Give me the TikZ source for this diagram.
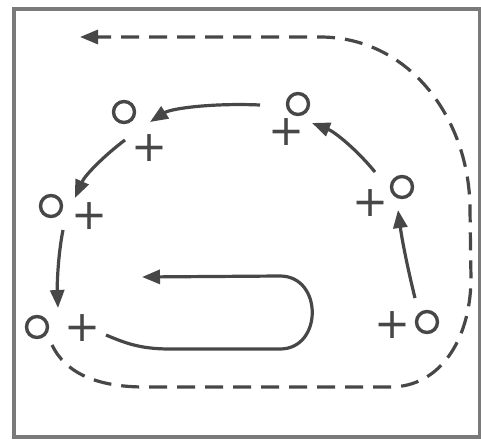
\documentclass[tikz,border=0pt]{standalone}
\usepackage{fontspec}
\newfontfamily\plusfont{DejaVu Sans}
\usetikzlibrary{arrows.meta}
\definecolor{ink}{HTML}{474747}
\definecolor{framec}{HTML}{7A7A7A}
\begin{document}
\begin{tikzpicture}[x=1pt,y=-1pt,
  ring/.style={circle,draw=ink,line width=3.4pt,minimum size=21pt,inner sep=0pt},
  plussign/.style={text=ink,inner sep=0pt,font=\plusfont\fontsize{43}{43}\selectfont},
  arr/.style={draw=ink,line width=3.2pt,-{Triangle[length=18pt,width=14pt]}},
  dashline/.style={draw=ink,line width=3.2pt,dash pattern=on 18pt off 10pt},
  framebox/.style={draw=framec,line width=3.5pt}]
\useasboundingbox (0,0) rectangle (481,441);
\draw[framebox] (14,9) rectangle (480,437);
% markers
\node[ring] (c1) at (427,322) {};
\node[plussign] (p1) at (393,325) {+};
\node[ring] (c2) at (402,187) {};
\node[plussign] (p2) at (371,203) {+};
\node[ring] (c3) at (298,104) {};
\node[plussign] (p3) at (287,132) {+};
\node[ring] (c4) at (124,112) {};
\node[plussign] (p4) at (150,148) {+};
\node[ring] (c5) at (51,206) {};
\node[plussign] (p5) at (90,216) {+};
\node[ring] (c6) at (37,327) {};
\node[plussign] (p6) at (83,328) {+};
% arrow end points
\coordinate (a1s) at (415,298); \coordinate (a1e) at (398,210);
\coordinate (a2s) at (375,172); \coordinate (a2e) at (312,123);
\coordinate (a3s) at (260,105); \coordinate (a3e) at (150,122);
\coordinate (a4s) at (125,140); \coordinate (a4e) at (75,198);
\coordinate (a5s) at (63,230);  \coordinate (a5e) at (58,308);
\coordinate (ls) at (106,335);  \coordinate (le) at (142,277);
\coordinate (ds) at (52,345);   \coordinate (de) at (80,37);
\draw[arr] (a1s) .. controls (408,270) and (402,240) .. (a1e);
\draw[arr] (a2s) .. controls (357,150) and (335,132) .. (a2e);
\draw[arr] (a3s) .. controls (215,103) and (172,108) .. (a3e);
\draw[arr] (a4s) .. controls (105,155) and (85,175) .. (a4e);
\draw[arr] (a5s) .. controls (58,255) and (57,285) .. (a5e);
\draw[arr] (ls) .. controls (125,343) and (140,349) .. (170,349) -- (280,349)
  .. controls (323,349) and (323,276) .. (280,276) -- (le);
\draw[dashline,-{Triangle[length=18pt,width=14pt]}] (ds) .. controls (65,372) and (95,387) .. (145,387)
  -- (390,387) .. controls (440,387) and (470,340) .. (471,280) -- (470,210)
  .. controls (470,120) and (410,37) .. (320,37) -- (de);
\end{tikzpicture}
\end{document}
